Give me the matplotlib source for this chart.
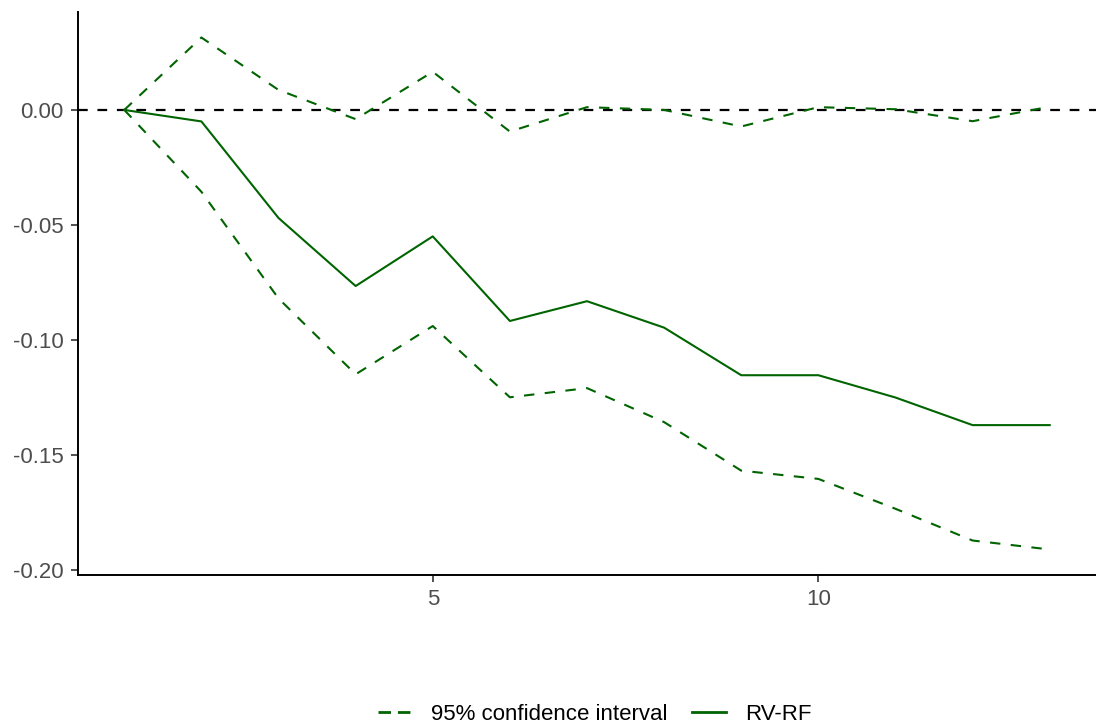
import matplotlib.pyplot as plt
import numpy as np

plt.rcParams['font.family'] = ['Liberation Sans', 'DejaVu Sans']
plt.rcParams['lines.scale_dashes'] = False

# Horizon (periods)
horizon = np.arange(1, 14)

# Impulse response RV-RF and its 95% confidence band
rv_rf = [0.0, -0.005, -0.047, -0.0766, -0.055, -0.0918, -0.0832,
         -0.0947, -0.1154, -0.1154, -0.1251, -0.1371, -0.1371]
ci_upper = [0.0, 0.0315, 0.0087, -0.004, 0.0166, -0.0094, 0.0012,
            0.0, -0.0072, 0.0012, 0.0003, -0.0049, 0.0014]
ci_lower = [0.0, -0.0356, -0.082, -0.115, -0.094, -0.125, -0.121,
            -0.1358, -0.1569, -0.1605, -0.1735, -0.1873, -0.1912]

y_ticks = [0.0, -0.05, -0.10, -0.15, -0.20]
x_ticks = [5, 10]

green = '#006400'
dash = (0, (7.5, 7.5))


def main():
    fig = plt.figure(figsize=(10.96, 7.25), dpi=100)
    ax = fig.add_axes([78 / 1096, 1 - 575 / 725, 1 - 78 / 1096, (575 - 12) / 725])

    # горизонтальная линия нуля
    ax.axhline(0, color='black', linestyle=(0, (7, 7)), linewidth=1.6, zorder=1)

    ax.plot(horizon, ci_upper, color=green, linestyle=dash, linewidth=1.5,
            label='95% confidence interval')
    ax.plot(horizon, ci_lower, color=green, linestyle=dash, linewidth=1.5)
    ax.plot(horizon, rv_rf, color=green, linestyle='-', linewidth=1.5, label='RV-RF')

    ax.set_xlim(0.4, 13.6)
    ax.set_ylim(-0.2023, 0.0426)
    ax.set_xticks(x_ticks)
    ax.set_yticks(y_ticks)
    ax.set_yticklabels([f'{v:.2f}' for v in y_ticks])

    for side in ['top', 'right']:
        ax.spines[side].set_visible(False)
    for side in ['left', 'bottom']:
        ax.spines[side].set_linewidth(1.4)
        ax.spines[side].set_color('black')

    ax.tick_params(axis='both', length=5, width=1.2, color='#333333',
                   labelsize=16, labelcolor='#4D4D4D', pad=5.5)
    ax.tick_params(axis='x', pad=5)

    leg = fig.legend(loc='center', bbox_to_anchor=(595 / 1096, 1 - 714 / 725),
                     ncol=2, frameon=False, fontsize=16, handlelength=1.5,
                     handletextpad=0.9, columnspacing=1.1)
    for line in leg.get_lines():
        line.set_linewidth(2.0)
        if line.get_linestyle() != '-':
            line.set_linestyle((0, (9, 5)))

    fig.savefig('out.png', dpi=100)


if __name__ == '__main__':
    main()
